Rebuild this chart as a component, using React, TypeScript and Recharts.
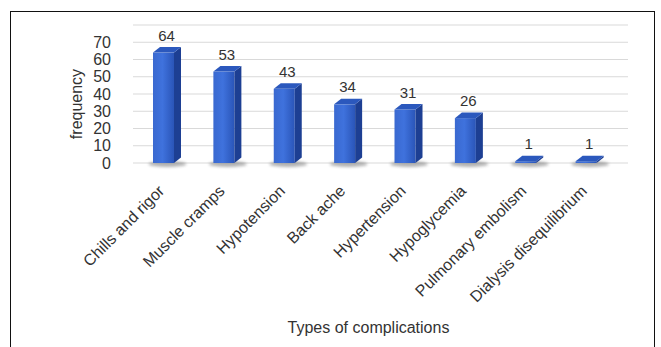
import { Bar, BarChart, CartesianGrid, LabelList, XAxis, YAxis } from "recharts";

const complications = [
  "Chills and rigor",
  "Muscle cramps",
  "Hypotension",
  "Back ache",
  "Hypertension",
  "Hypoglycemia",
  "Pulmonary embolism",
  "Dialysis disequilibrium"
];

const frequency = [64, 53, 43, 34, 31, 26, 1, 1];

const yTicks = [0, 10, 20, 30, 40, 50, 60, 70, 80];

const FONT = "'Liberation Sans', Arial, sans-serif";
const DEPTH = 7;

function Bar3D(props: any) {
  const { x, y, width, height } = props;
  const d = DEPTH;
  const rise = d * 0.8;
  const bottom = y + height;

  return (
    <g>
      <ellipse
        cx={x + width / 2 + 4}
        cy={bottom + 1}
        rx={width * 0.9}
        ry={3}
        fill="#555"
        opacity={0.45}
        filter="url(#blur)"
      />
      <rect x={x} y={y} width={width} height={height} fill="url(#front)" />
      <polygon
        points={`${x + width},${y} ${x + width + d},${y - rise} ${x + width + d},${bottom - rise} ${x + width},${bottom}`}
        fill="#1d3f93"
      />
      <polygon
        points={`${x},${y} ${x + d},${y - rise} ${x + width + d},${y - rise} ${x + width},${y}`}
        fill="#2b58bd"
      />
    </g>
  );
}

function FrequencyLabel(props: any) {
  const { viewBox } = props;
  const cx = viewBox.x + 26;
  const cy = viewBox.y + viewBox.height / 2 + 10;
  return (
    <text
      x={cx}
      y={cy}
      transform={`rotate(-90, ${cx}, ${cy})`}
      textAnchor="middle"
      dominantBaseline="central"
      fill="#333"
      fontSize={16}
      fontFamily={FONT}
    >
      frequency
    </text>
  );
}

export default function App() {
  const data = complications.map((name, i) => ({ name, value: frequency[i] }));

  return (
    <div style={{ position: "relative", width: 661, height: 347, background: "#fff" }}>
      <style>{`body{margin:0;}`}</style>

      <div
        style={{
          position: "absolute",
          left: 10,
          top: 11,
          width: 645,
          height: 345,
          border: "1.5px solid #111",
          boxSizing: "border-box",
          pointerEvents: "none"
        }}
      />

      <BarChart
        width={661}
        height={347}
        data={data}
        margin={{ top: 25, right: 33, bottom: 0, left: 50 }}
        barCategoryGap={0}
      >
        <defs>
          <linearGradient id="front" x1="0" y1="0" x2="1" y2="0">
            <stop offset="0%" stopColor="#3a69d0" />
            <stop offset="45%" stopColor="#3f72dd" />
            <stop offset="100%" stopColor="#2a55b8" />
          </linearGradient>
          <filter id="blur" x="-50%" y="-200%" width="200%" height="500%">
            <feGaussianBlur stdDeviation="1.5" />
          </filter>
        </defs>

        <CartesianGrid vertical={false} stroke="#d9d9d9" />

        <XAxis
          dataKey="name"
          interval={0}
          axisLine={false}
          tickLine={false}
          height={184}
          padding={{ left: 0, right: 12 }}
          tick={{ fill: "#333", fontSize: 16, fontFamily: FONT, angle: -45, textAnchor: "end", dx: -6 }}
          tickMargin={15}
          label={{
            value: "Types of complications",
            position: "insideBottom",
            offset: 14,
            dx: -12,
            fill: "#333",
            fontSize: 16,
            fontFamily: FONT
          }}
        />

        <YAxis
          domain={[0, 80]}
          ticks={yTicks}
          interval={0}
          axisLine={false}
          tickLine={false}
          width={83}
          tickMargin={16}
          tick={{ fill: "#333", fontSize: 16, fontFamily: FONT }}
          tickFormatter={(v: number) => (v === 80 ? "" : String(v))}
          label={<FrequencyLabel />}
        />

        <Bar dataKey="value" barSize={21} shape={<Bar3D />} isAnimationActive={false}>
          <LabelList
            dataKey="value"
            position="top"
            offset={12}
            dx={3}
            fill="#333"
            fontSize={15}
            fontFamily={FONT}
          />
        </Bar>
      </BarChart>
    </div>
  );
}
